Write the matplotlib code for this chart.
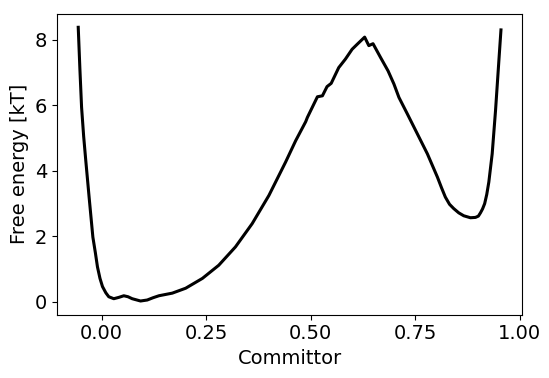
import matplotlib
matplotlib.use("Agg")
import matplotlib.pyplot as plt

# committor values and free energy (kT)
committor = [-0.056, -0.052, -0.048, -0.043, -0.038, -0.030, -0.021, -0.015, -0.010,
             -0.004, 0.002, 0.010, 0.017, 0.029, 0.041, 0.053, 0.063, 0.073,
             0.093, 0.109, 0.123, 0.137, 0.169, 0.201, 0.241, 0.280,
             0.320, 0.360, 0.400, 0.440, 0.464, 0.488, 0.492, 0.516, 0.528,
             0.539, 0.549, 0.567, 0.583, 0.599, 0.611, 0.629, 0.639, 0.649,
             0.667, 0.685, 0.699, 0.711, 0.731, 0.755, 0.779, 0.803, 0.813,
             0.822, 0.832, 0.842, 0.854, 0.866, 0.882, 0.894, 0.901, 0.906,
             0.911, 0.916, 0.921, 0.926, 0.934, 0.942, 0.950, 0.955]
free_energy = [8.38, 7.10, 5.94, 5.05, 4.32, 3.20, 1.98, 1.50, 1.07,
               0.72, 0.47, 0.28, 0.16, 0.10, 0.14, 0.19, 0.16, 0.10,
               0.03, 0.06, 0.13, 0.19, 0.27, 0.42, 0.72, 1.12,
               1.68, 2.39, 3.25, 4.27, 4.92, 5.50, 5.63, 6.26, 6.29,
               6.57, 6.67, 7.15, 7.41, 7.71, 7.86, 8.08, 7.82, 7.88,
               7.46, 7.05, 6.65, 6.24, 5.74, 5.13, 4.52, 3.81, 3.48,
               3.20, 2.98, 2.85, 2.72, 2.63, 2.57, 2.58, 2.62, 2.72,
               2.84, 3.00, 3.28, 3.66, 4.52, 5.84, 7.36, 8.30]

plt.rcParams['font.size'] = 14

fig = plt.figure(figsize=(5.49, 3.78), dpi=100)
ax = fig.add_axes([0.104, 0.1675, 0.847, 0.7965])
ax.plot(committor, free_energy, color='black', linewidth=2.2)
ax.set_xticks([0.0, 0.25, 0.5, 0.75, 1.0])
ax.set_yticks([0, 2, 4, 6, 8])
ax.set_xlabel('Committor')
ax.set_ylabel('Free energy [kT]')

fig.savefig('out.png', dpi=100)
